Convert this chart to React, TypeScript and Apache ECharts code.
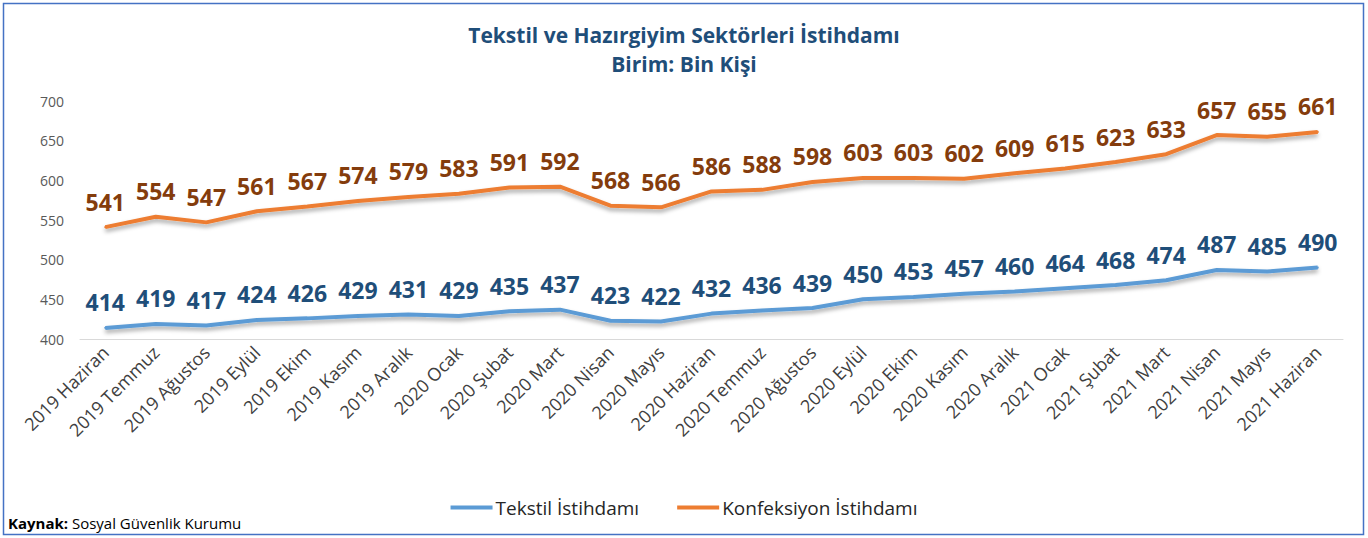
import React, { useEffect, useRef } from "react";
import * as echarts from "echarts";

const categories = [
  "2019 Haziran", "2019 Temmuz", "2019 Ağustos", "2019 Eylül", "2019 Ekim", "2019 Kasım", "2019 Aralık",
  "2020 Ocak", "2020 Şubat", "2020 Mart", "2020 Nisan", "2020 Mayıs", "2020 Haziran", "2020 Temmuz",
  "2020 Ağustos", "2020 Eylül", "2020 Ekim", "2020 Kasım", "2020 Aralık", "2021 Ocak", "2021 Şubat",
  "2021 Mart", "2021 Nisan", "2021 Mayıs", "2021 Haziran",
];
const tekstil = [414, 419, 417, 424, 426, 429, 431, 429, 435, 437, 423, 422, 432, 436, 439, 450, 453, 457, 460, 464, 468, 474, 487, 485, 490];
const konfeksiyon = [541, 554, 547, 561, 567, 574, 579, 583, 591, 592, 568, 566, 586, 588, 598, 603, 603, 602, 609, 615, 623, 633, 657, 655, 661];
const yMin = 400;
const yMax = 700;
const yInterval = 50;

const FONT = "'Open Sans', 'Noto Sans', sans-serif";

export default function App() {
  const ref = useRef<HTMLDivElement>(null);
  useEffect(() => {
    if (!ref.current) return;
    const chart = echarts.init(ref.current, null, { renderer: "svg" });
    const lineSeries = (name: string, data: number[], color: string, labelColor: string) => ({
      name,
      type: "line",
      data,
      symbol: "circle",
      symbolSize: 2,
      showSymbol: true,
      lineStyle: {
        color,
        width: 4,
        shadowColor: "rgba(0,0,0,0.35)",
        shadowBlur: 4,
        shadowOffsetY: 3,
      },
      itemStyle: { color },
      label: {
        show: true,
        position: "top",
        distance: 13,
        color: labelColor,
        fontFamily: FONT,
        fontWeight: "bold",
        fontSize: 23,
      },
    });
    chart.setOption({
      animation: false,
      backgroundColor: "#ffffff",
      title: {
        text: "Tekstil ve Hazırgiyim Sektörleri İstihdamı",
        subtext: "Birim: Bin Kişi",
        left: "center",
        top: 17,
        itemGap: 3,
        textStyle: { fontFamily: FONT, fontSize: 21, fontWeight: "bold", color: "#1F4E79", lineHeight: 26 },
        subtextStyle: { fontFamily: FONT, fontSize: 21, fontWeight: "bold", color: "#1F4E79", lineHeight: 26 },
      },
      legend: {
        bottom: 16,
        left: "center",
        itemWidth: 42,
        itemHeight: 4,
        itemGap: 38,
        icon: "rect",
        textStyle: { fontFamily: FONT, fontSize: 19, color: "#262626", padding: [0, 0, 0, -2] },
        data: ["Tekstil İstihdamı", "Konfeksiyon İstihdamı"],
      },
      grid: { left: 80, right: 25, top: 101, bottom: 199, containLabel: false },
      xAxis: {
        type: "category",
        data: categories,
        boundaryGap: true,
        axisLine: { show: true, lineStyle: { color: "#D9D9D9", width: 1 } },
        axisTick: { show: false },
        axisLabel: {
          rotate: 45,
          interval: 0,
          margin: 10,
          fontFamily: FONT,
          fontSize: 18,
          color: "#404040",
        },
      },
      yAxis: {
        type: "value",
        min: yMin,
        max: yMax,
        interval: yInterval,
        axisLine: { show: false },
        axisTick: { show: false },
        splitLine: { show: false },
        axisLabel: { fontFamily: FONT, fontSize: 14, color: "#595959", margin: 16 },
      },
      series: [
        lineSeries("Tekstil İstihdamı", tekstil, "#5B9BD5", "#1F4E79"),
        lineSeries("Konfeksiyon İstihdamı", konfeksiyon, "#ED7D31", "#843C0C"),
      ],
      graphic: [
        {
          type: "rect",
          shape: { x: 3.5, y: 3.5, width: 1360, height: 531 },
          style: { fill: "none", stroke: "#4472C4", lineWidth: 1.5 },
          silent: true,
        },
        {
          type: "text",
          left: 8,
          top: 515,
          style: {
            text: "{b|Kaynak:} Sosyal Güvenlik Kurumu",
            rich: {
              b: { fontFamily: FONT, fontSize: 15, fontWeight: "bold", fill: "#000" },
            },
            fontFamily: FONT,
            fontSize: 15,
            fill: "#000",
          },
        },
      ],
    });
    return () => chart.dispose();
  }, []);
  return (
    <div
      ref={ref}
      style={{ position: "absolute", left: 0, top: 0, width: 1368, height: 538 }}
    />
  );
}
